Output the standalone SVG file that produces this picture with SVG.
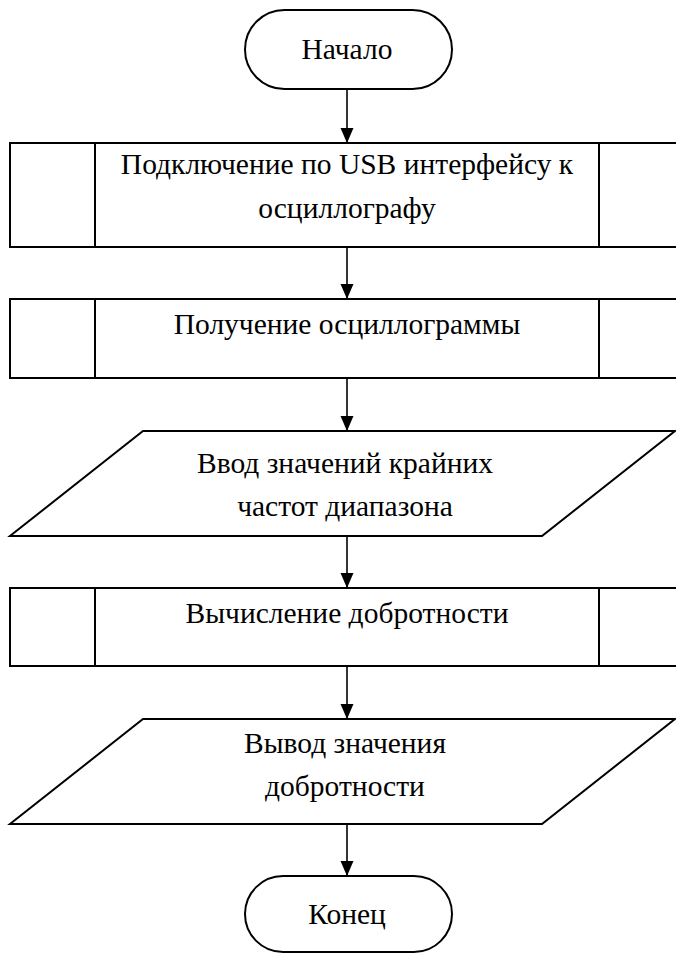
<svg xmlns="http://www.w3.org/2000/svg" width="676" height="953" viewBox="0 0 676 953">
<defs>
<marker id="ah" markerUnits="userSpaceOnUse" markerWidth="16" markerHeight="14" refX="15" refY="6.5" orient="auto">
<path d="M0,0 L15,6.5 L0,13 z" fill="#000"/>
</marker>
<style>
.s{fill:#fff;stroke:#000;stroke-width:2}
.t{font-family:"Liberation Serif","Times New Roman",serif;font-size:29.5px;fill:#000;text-anchor:middle}
.c{stroke:#000;stroke-width:1.6;fill:none;marker-end:url(#ah)}
</style>
</defs>
<rect width="676" height="953" fill="#fff"/>
<g id="connectors">
<line class="c" x1="347" y1="89" x2="347" y2="143"/>
<line class="c" x1="347" y1="247" x2="347" y2="299"/>
<line class="c" x1="347" y1="378" x2="347" y2="431"/>
<line class="c" x1="347" y1="536" x2="347" y2="588"/>
<line class="c" x1="347" y1="666" x2="347" y2="719"/>
<line class="c" x1="347" y1="824" x2="347" y2="876"/>
</g>
<g id="start">
<rect class="s" x="245" y="10" width="207" height="79" rx="39.5"/>
<text class="t" x="347" y="59">Начало</text>
</g>
<g id="usb">
<rect class="s" x="10" y="143" width="674" height="104"/>
<line class="s" x1="95" y1="143" x2="95" y2="247"/>
<line class="s" x1="599" y1="143" x2="599" y2="247"/>
<text class="t" x="347" y="174">Подключение по USB интерфейсу к</text>
<text class="t" x="347" y="218">осциллографу</text>
</g>
<g id="osc">
<rect class="s" x="10" y="299" width="674" height="79"/>
<line class="s" x1="95" y1="299" x2="95" y2="378"/>
<line class="s" x1="599" y1="299" x2="599" y2="378"/>
<text class="t" x="347" y="334">Получение осциллограммы</text>
</g>
<g id="input">
<polygon class="s" points="143,431 675,431 542,536 10,536"/>
<text class="t" x="345" y="473">Ввод значений крайних</text>
<text class="t" x="345" y="516">частот диапазона</text>
</g>
<g id="calc">
<rect class="s" x="10" y="588" width="674" height="78"/>
<line class="s" x1="95" y1="588" x2="95" y2="666"/>
<line class="s" x1="599" y1="588" x2="599" y2="666"/>
<text class="t" x="347" y="623">Вычисление добротности</text>
</g>
<g id="output">
<polygon class="s" points="143,719 675,719 542,824 10,824"/>
<text class="t" x="345" y="753">Вывод значения</text>
<text class="t" x="345" y="796">добротности</text>
</g>
<g id="end">
<rect class="s" x="245" y="876" width="207" height="76" rx="38"/>
<text class="t" x="347" y="924">Конец</text>
</g>
</svg>
